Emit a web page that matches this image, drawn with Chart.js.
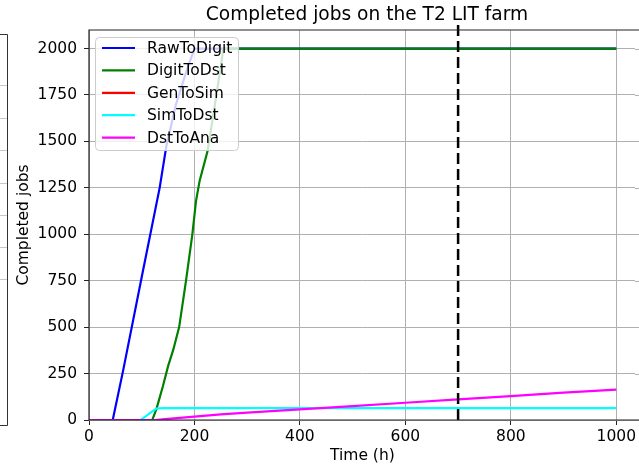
<!DOCTYPE html>
<html>
<head>
<meta charset="utf-8">
<script src="https://cdn.jsdelivr.net/npm/chart.js@4.4.1/dist/chart.umd.min.js"></script>
<style>
  html, body { margin: 0; padding: 0; background: #fff; overflow: hidden; }
  #wrap { position: relative; width: 639px; height: 468px; }
</style>
</head>
<body>
<div id="wrap"><canvas id="jobsChart"></canvas></div>
<script>
// Series (time in hours, completed jobs)
const seriesNames = ['RawToDigit', 'DigitToDst', 'GenToSim', 'SimToDst', 'DstToAna'];
const seriesColors = ['#0000ff', '#008000', '#ff0000', '#00ffff', '#ff00ff'];

const rawTime = [0, 45, 65, 100, 134, 147, 165, 185, 200, 1000];
const rawJobs = [0, 0, 270, 770, 1250, 1480, 1700, 1880, 2000, 2000];

const digiTime = [0, 120, 128, 140, 150, 160, 171, 184, 196, 203, 210, 225, 240, 255, 1000];
const digiJobs = [0, 0, 60, 180, 290, 380, 500, 750, 1000, 1180, 1290, 1450, 1720, 2000, 2000];

const genTime = [];
const genJobs = [];

const simTime = [0, 98, 110, 120, 128, 140, 1000];
const simJobs = [0, 0, 25, 47, 62, 64, 64];

const anaTime = [0, 125, 150, 200, 250, 300, 400, 500, 600, 700, 800, 900, 1000];
const anaJobs = [0, 0, 6, 18, 30, 40, 57, 75, 93, 111, 129, 147, 164];

const cutoffHour = 700;
const cutoffSpan = [0, 2140];

const xTicks = [0, 200, 400, 600, 800, 1000];
const yTicks = [0, 250, 500, 750, 1000, 1250, 1500, 1750, 2000];

const FONT = 'DejaVu Sans';
const GRID = '#b0b0b0';

function pairs(xs, ys) {
    return xs.map((x, i) => ({ x: x, y: ys[i] }));
}

const allTimes = [rawTime, digiTime, genTime, simTime, anaTime];
const allJobs = [rawJobs, digiJobs, genJobs, simJobs, anaJobs];

const datasets = seriesNames.map((name, i) => ({
    label: name,
    data: pairs(allTimes[i], allJobs[i]),
    borderColor: seriesColors[i],
    backgroundColor: seriesColors[i],
    borderWidth: 2.2,
    pointRadius: 0,
    tension: 0,
    fill: false,
    order: seriesNames.length - i   // later series on top, like matplotlib
}));

datasets.push({
    label: '',
    data: cutoffSpan.map(y => ({ x: cutoffHour, y: y })),
    borderColor: '#000',
    borderWidth: 2.5,
    borderDash: [11, 5],
    pointRadius: 0,
    clip: false,
    order: 0
});

// frame, title, legend and the neighbouring panel edge
const decorations = {
    id: 'decorations',
    beforeDraw(chart) {
        const ctx = chart.ctx;
        ctx.save();
        // edge of the neighbouring subplot on the left
        ctx.strokeStyle = '#c8c8c8';
        ctx.lineWidth = 1;
        [85, 118, 150, 183, 215, 247, 279].forEach(y => {
            ctx.beginPath();
            ctx.moveTo(0, y + 0.5);
            ctx.lineTo(7, y + 0.5);
            ctx.stroke();
        });
        ctx.strokeStyle = '#333';
        ctx.beginPath();
        ctx.moveTo(0, 34.5);
        ctx.lineTo(7.5, 34.5);
        ctx.lineTo(7.5, 425.5);
        ctx.lineTo(0, 425.5);
        ctx.stroke();
        ctx.restore();
    },
    afterDatasetsDraw(chart) {
        const ctx = chart.ctx;
        const a = chart.chartArea;
        ctx.save();

        // the axes box goes on past the window, so keep its right edge open
        const edge = chart.width - 4;
        ctx.fillStyle = '#fff';
        ctx.fillRect(edge, a.top + 1, chart.width - edge, a.bottom - a.top - 2);
        ctx.strokeStyle = GRID;
        ctx.lineWidth = 1;
        yTicks.forEach(v => {
            const y = Math.round(chart.scales.y.getPixelForValue(v)) + 0.5;
            ctx.beginPath();
            ctx.moveTo(edge, y);
            ctx.lineTo(chart.width, y);
            ctx.stroke();
        });

        // spines
        ctx.strokeStyle = '#222';
        ctx.lineWidth = 1.2;
        ctx.beginPath();
        ctx.moveTo(chart.width, a.top);
        ctx.lineTo(a.left, a.top);
        ctx.lineTo(a.left, a.bottom);
        ctx.lineTo(chart.width, a.bottom);
        ctx.stroke();

        // title, centred over the full axes box (which runs to about x=646)
        ctx.fillStyle = '#000';
        ctx.font = '18.6px "' + FONT + '"';
        ctx.textAlign = 'center';
        ctx.textBaseline = 'alphabetic';
        ctx.fillText('Completed jobs on the T2 LIT farm', 367, 20);

        // legend
        const lx = 95, ly = 37, lw = 143, lh = 113;
        ctx.beginPath();
        ctx.roundRect(lx + 0.5, ly + 0.5, lw, lh, 4);
        ctx.fillStyle = 'rgba(255,255,255,0.8)';
        ctx.fill();
        ctx.strokeStyle = '#cccccc';
        ctx.lineWidth = 1;
        ctx.stroke();

        ctx.font = '15.5px "' + FONT + '"';
        ctx.textAlign = 'left';
        ctx.textBaseline = 'middle';
        seriesNames.forEach((name, i) => {
            const y = 48 + i * 22.4;
            ctx.strokeStyle = seriesColors[i];
            ctx.lineWidth = 2.2;
            ctx.beginPath();
            ctx.moveTo(102, y);
            ctx.lineTo(135, y);
            ctx.stroke();
            ctx.fillStyle = '#000';
            ctx.fillText(name, 147, y + 1);
        });
        ctx.restore();
    }
};

new Chart(document.getElementById('jobsChart').getContext('2d'), {
    type: 'line',
    data: { datasets: datasets },
    options: {
        responsive: true,
        maintainAspectRatio: false,
        animation: false,
        layout: { padding: { top: 30, right: 0, left: 0, bottom: 0 } },
        plugins: {
            legend: { display: false },
            title: { display: false },
            tooltip: { enabled: false }
        },
        scales: {
            x: {
                type: 'linear',
                min: 0,
                max: 1037,
                afterBuildTicks: s => { s.ticks = xTicks.map(v => ({ value: v })); },
                afterFit: s => { s.height = 48; },
                ticks: {
                    color: '#000',
                    font: { family: FONT, size: 15.5 },
                    padding: 3,
                    maxRotation: 0,
                    autoSkip: false,
                    includeBounds: false,
                    callback: v => String(v)
                },
                grid: { color: GRID, lineWidth: 1, tickColor: '#222', tickLength: 5 },
                border: { display: false },
                title: {
                    display: true,
                    text: 'Time (h)',
                    color: '#000',
                    font: { family: FONT, size: 15.5, lineHeight: 1.2 },
                    padding: { top: 0, bottom: 3 }
                }
            },
            y: {
                type: 'linear',
                min: 0,
                max: 2100,
                afterBuildTicks: s => { s.ticks = yTicks.map(v => ({ value: v })); },
                afterFit: s => { s.width = 89; },
                ticks: {
                    color: '#000',
                    font: { family: FONT, size: 15.5 },
                    padding: 7,
                    autoSkip: false,
                    includeBounds: false,
                    callback: v => String(v)
                },
                grid: { color: GRID, lineWidth: 1, tickColor: '#222', tickLength: 5 },
                border: { display: false },
                title: {
                    display: true,
                    text: 'Completed jobs',
                    color: '#000',
                    font: { family: FONT, size: 15.5, lineHeight: 1.2 },
                    padding: { top: 15, bottom: 0 }
                }
            }
        }
    },
    plugins: [decorations]
});
</script>
</body>
</html>
